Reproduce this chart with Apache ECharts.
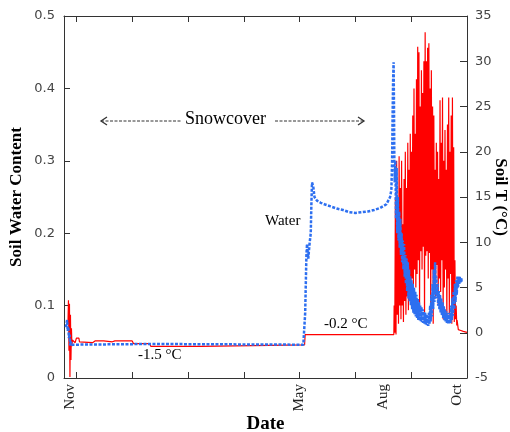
<!DOCTYPE html>
<html>
<head>
<meta charset="utf-8">
<script src="https://cdn.jsdelivr.net/npm/echarts@6/dist/echarts.min.js"></script>
<style>html,body{margin:0;padding:0;background:#fff}#c{width:510px;height:432px}</style>
</head>
<body>
<div id="c"></div>
<script>
// x values are day offsets on the plot's date scale (0 = first tick after Nov start)
const xTicks = [0, 45, 90, 135, 180, 225, 270, 315];
const xLabelPos = [-4.8, 179.7, 247.4, 307];
const xLabelNames = ['Nov', 'May', 'Aug', 'Oct'];

// Soil temperature (°C) – winter / spring segment
const tempWinterX = [-6.8, -6.4, -6, -5.6, -5.2, -4.8, -4.4, -4, -3.6, -3.2, -2.5, -1, 0, 1, 2, 2.5, 4, 13, 15, 22, 23, 29, 31, 45, 46, 59, 60, 100, 101, 184, 184.5, 256];
const tempWinterY = [1.0, 3.6, -2.0, 3.2, -4.9, 2.0, -3.0, 0.5, -1.5, -0.8, -1.0, -1.1, -0.6, -0.4, -0.6, -1.0, -1.1, -1.1, -0.9, -0.9, -1.0, -1.0, -0.9, -0.9, -1.2, -1.2, -1.5, -1.5, -1.35, -1.35, -0.2, -0.2];
// Summer daily max / min (°C), one per day starting at day 256
const summerStart = 256;
const tempMax = [3, 15, 19, 14, 19.5, 16, 19, 12, 17, 20, 16, 21, 18, 22, 20, 24, 27, 22, 28, 31.6, 31, 25, 29, 26.5, 30, 33.2, 30, 31.5, 32, 27, 29, 25, 24, 18, 21, 20, 17, 25.7, 21, 26, 19, 22.4, 18, 23, 26, 20, 24, 26, 20.5, 8, 3];
const tempMin = [0, -0.2, 2, 1, 3, 1.5, 3, 1.2, 3.5, 2, 4, 2.5, 5, 3.5, 6, 4, 7, 5, 6.5, 8, 3, 9, 7, 9.5, 1.2, 8.5, 9, 6, 8.8, 2, 7, 1, 6, 4, 7.5, 3, 6, 4.5, 8, 1.5, 5, 7, 1.2, 6, 2, 6.5, 1, 3, 1.2, 1.5, 0.8];
const tempTailX = [307, 307.5, 308, 310, 312, 315];
const tempTailY = [1.4, 1.3, 0.35, 0.25, 0.15, 0.05];

// Soil water content – winter / spring segment
const waterWinterX = [-8.5, -8, -7.5, -7, -6.5, -6, -5.5, -5, -4.5, -4, -3, 60, 61, 183, 184, 184.5, 185, 185.5, 186, 186.5, 187, 187.5, 188, 189, 189.5, 190, 191, 192, 194, 197, 200, 205, 210, 215, 220, 225, 230, 235, 240, 245, 250, 253, 254, 254.6, 255, 255.4, 255.8, 256.1, 256.4, 256.7];
const waterWinterY = [0.07, 0.075, 0.08, 0.065, 0.07, 0.055, 0.06, 0.045, 0.05, 0.046, 0.047, 0.047, 0.046, 0.046, 0.047, 0.09, 0.13, 0.17, 0.185, 0.175, 0.165, 0.175, 0.185, 0.2, 0.24, 0.27, 0.265, 0.25, 0.245, 0.242, 0.24, 0.237, 0.234, 0.232, 0.229, 0.228, 0.229, 0.23, 0.232, 0.235, 0.24, 0.25, 0.26, 0.3, 0.36, 0.41, 0.436, 0.38, 0.3, 0.27];
// Summer daily high / low water content, one per day starting at day 257
const waterSummerStart = 257;
const waterHi = [0.30, 0.29, 0.25, 0.23, 0.22, 0.20, 0.19, 0.185, 0.17, 0.165, 0.16, 0.15, 0.14, 0.135, 0.13, 0.125, 0.12, 0.115, 0.11, 0.105, 0.1, 0.098, 0.095, 0.092, 0.09, 0.088, 0.085, 0.09, 0.1, 0.115, 0.13, 0.15, 0.16, 0.14, 0.13, 0.12, 0.115, 0.11, 0.105, 0.1, 0.095, 0.092, 0.09, 0.088, 0.09, 0.1, 0.11, 0.12, 0.13, 0.135, 0.14, 0.14, 0.14, 0.138, 0.135];
const waterLo = [0.22, 0.20, 0.19, 0.18, 0.17, 0.16, 0.15, 0.14, 0.13, 0.12, 0.11, 0.105, 0.1, 0.095, 0.09, 0.088, 0.085, 0.083, 0.08, 0.079, 0.078, 0.077, 0.076, 0.075, 0.074, 0.073, 0.072, 0.074, 0.078, 0.085, 0.095, 0.105, 0.115, 0.11, 0.1, 0.095, 0.09, 0.087, 0.083, 0.08, 0.078, 0.076, 0.075, 0.075, 0.076, 0.08, 0.086, 0.095, 0.105, 0.115, 0.125, 0.13, 0.132, 0.134, 0.135];

const leftTicks = {min: 0, max: 0.5, interval: 0.1};
const rightTicks = {min: -5, max: 35, interval: 5};

function buildTemp() {
  const d = tempWinterX.map((x, i) => [x, tempWinterY[i]]);
  tempMax.forEach((v, i) => {
    d.push([summerStart + i + 0.25, v]);
    d.push([summerStart + i + 0.75, tempMin[i]]);
  });
  tempTailX.forEach((x, i) => d.push([x, tempTailY[i]]));
  return d;
}
function buildWater() {
  const d = waterWinterX.map((x, i) => [x, waterWinterY[i]]);
  waterHi.forEach((v, i) => {
    d.push([waterSummerStart + i + 0.25, v]);
    d.push([waterSummerStart + i + 0.75, waterLo[i]]);
  });
  return d;
}

const axisCol = '#333';
const lblStyle = {color: '#444', fontFamily: 'DejaVu Sans', fontSize: 13};
const chart = echarts.init(document.getElementById('c'), null, {renderer: 'canvas'});
chart.setOption({
  animation: false,
  grid: {left: 64, right: 43, top: 16, bottom: 54, containLabel: false, outerBoundsMode: 'none'},
  xAxis: [{
    type: 'value', min: -10, max: 315, position: 'bottom',
    axisLine: {onZero: false, lineStyle: {color: axisCol}},
    axisTick: {inside: true, length: 6, customValues: xTicks, lineStyle: {color: axisCol}},
    axisLabel: {
      customValues: xLabelPos, rotate: 90, margin: 6,
      color: '#222', fontFamily: 'Liberation Serif', fontSize: 15,
      formatter: function (v) {
        const i = xLabelPos.findIndex(p => Math.abs(p - v) < 0.01);
        return i >= 0 ? xLabelNames[i] : '';
      }
    },
    splitLine: {show: false},
    name: 'Date', nameLocation: 'middle', nameGap: 37, nameMoveOverlap: false,
    nameTextStyle: {fontFamily: 'Liberation Serif', fontWeight: 'bold', fontSize: 19, color: '#000'}
  }, {
    type: 'value', min: -10, max: 315, position: 'top',
    axisLine: {onZero: false, lineStyle: {color: axisCol}},
    axisTick: {inside: true, length: 6, customValues: xTicks, lineStyle: {color: axisCol}},
    axisLabel: {show: false},
    splitLine: {show: false}
  }],
  yAxis: [{
    type: 'value', min: leftTicks.min, max: leftTicks.max, interval: leftTicks.interval, position: 'left',
    axisLine: {show: true, onZero: false, lineStyle: {color: axisCol}},
    axisTick: {show: true, inside: true, length: 6, lineStyle: {color: axisCol}},
    axisLabel: Object.assign({margin: 9}, lblStyle),
    splitLine: {show: false},
    name: 'Soil Water Content', nameLocation: 'middle', nameGap: 39, nameMoveOverlap: false,
    nameTextStyle: {fontFamily: 'Liberation Serif', fontWeight: 'bold', fontSize: 17, color: '#000'}
  }, {
    type: 'value', min: rightTicks.min, max: rightTicks.max, interval: rightTicks.interval, position: 'right',
    axisLine: {show: true, onZero: false, lineStyle: {color: axisCol}},
    axisTick: {show: true, inside: true, length: 7, lineStyle: {color: axisCol}},
    axisLabel: Object.assign({margin: 8}, lblStyle),
    splitLine: {show: false},
    name: 'Soil T (°C)', nameLocation: 'middle', nameGap: 25, nameRotate: -90, nameMoveOverlap: false,
    nameTextStyle: {fontFamily: 'Liberation Serif', fontWeight: 'bold', fontSize: 17, color: '#000'}
  }],
  series: [{
    name: 'Soil T', type: 'line', xAxisIndex: 0, yAxisIndex: 1,
    data: buildTemp(), showSymbol: false, symbol: 'none',
    lineStyle: {color: '#ff0000', width: 1.2}, z: 2
  }, {
    name: 'Water', type: 'line', xAxisIndex: 0, yAxisIndex: 0,
    data: buildWater(), showSymbol: false, symbol: 'none',
    lineStyle: {color: '#2d6ff0', width: 2.5, type: [3, 1.5]}, z: 3
  }],
  graphic: [
    {type: 'text', left: 185, top: 110, style: {text: 'Snowcover', font: '18px "Liberation Serif"', fill: '#000'}},
    {type: 'line', shape: {x1: 101, y1: 121, x2: 181, y2: 121}, style: {stroke: '#333', lineWidth: 1, lineDash: [3, 1.5]}},
    {type: 'polyline', shape: {points: [[107, 117], [101, 121], [107, 125]]}, style: {stroke: '#333', lineWidth: 1.3, fill: null}},
    {type: 'line', shape: {x1: 275, y1: 121, x2: 364, y2: 121}, style: {stroke: '#333', lineWidth: 1, lineDash: [3, 1.5]}},
    {type: 'polyline', shape: {points: [[358, 117], [364, 121], [358, 125]]}, style: {stroke: '#333', lineWidth: 1.3, fill: null}},
    {type: 'text', left: 265, top: 214, style: {text: 'Water', font: '15px "Liberation Serif"', fill: '#000'}},
    {type: 'text', left: 138, top: 348, style: {text: '-1.5 °C', font: '15px "Liberation Serif"', fill: '#000'}},
    {type: 'text', left: 324, top: 317, style: {text: '-0.2 °C', font: '15px "Liberation Serif"', fill: '#000'}}
  ]
});
</script>
</body>
</html>
